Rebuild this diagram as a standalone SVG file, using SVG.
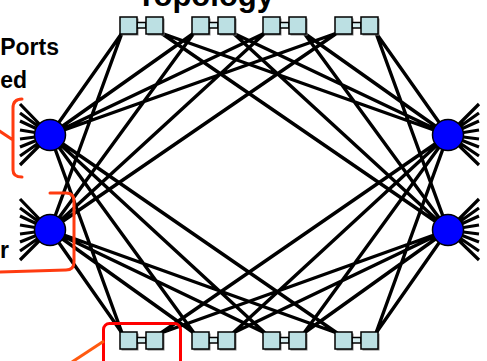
<svg xmlns="http://www.w3.org/2000/svg" width="487" height="361" viewBox="0 0 487 361">
<defs>
<style>
.lk{stroke:#000;stroke-width:3.4;stroke-linecap:round;fill:none}
.sp{stroke:#000;stroke-width:3.2;fill:none}
.bx{fill:#BCE0E3;stroke:#000;stroke-width:1.5}
.sh{fill:#808080}
.cn{fill:#D6EEF0;stroke:#000;stroke-width:1.5}
.nd{fill:#0000FF;stroke:#000;stroke-width:1.5}
.t{font-family:"Liberation Sans",Arial,sans-serif;font-weight:bold;fill:#000}
.br{stroke:#FF3B10;stroke-width:3;fill:none;stroke-linecap:round}
</style>
<g id="pair">
<rect class="sh" x="1.5" y="1.5" width="17" height="17"/>
<rect class="sh" x="27.5" y="1.5" width="17" height="17"/>
<rect class="cn" x="17" y="5.5" width="9" height="5.5"/>
<rect class="bx" x="0" y="0" width="17" height="17"/>
<rect class="bx" x="26" y="0" width="17" height="17"/>
</g>
</defs>
<text class="t" x="274" y="6" font-size="31" text-anchor="end">Topology</text>
<text class="t" x="59" y="55" font-size="23" text-anchor="end">Ports</text>
<text class="t" x="27" y="88" font-size="23" text-anchor="end">ed</text>
<text class="t" x="9" y="258" font-size="23" text-anchor="end">r</text>
<g id="connectors">
<path class="lk" d="M50,135L122,33M50,230L122,33M50,135L194,33M50,230L194,33M50,135L265,33M50,230L265,33M50,135L337,33M50,230L337,33"/>
<path class="lk" d="M50,135L122,333M50,230L122,333M50,135L194,333M50,230L194,333M50,135L265,333M50,230L265,333M50,135L337,333M50,230L337,333"/>
<path class="lk" d="M448,135L161,33M448,230L161,33M448,135L233,33M448,230L233,33M448,135L304,33M448,230L304,33M448,135L376,33M448,230L376,33"/>
<path class="lk" d="M448,135L161,333M448,230L161,333M448,135L233,333M448,230L233,333M448,135L304,333M448,230L304,333M448,135L376,333M448,230L376,333"/>
</g>
<g id="spikes">
<path class="sp" d="M50,135L20,104M50,135L20,113M50,135L20,121M50,135L20,130M50,135L20,139M50,135L20,147M50,135L20,156M50,135L20,165"/>
<path class="sp" d="M50,230L20,199M50,230L20,208M50,230L20,216M50,230L20,225M50,230L20,234M50,230L20,242M50,230L20,251M50,230L20,260"/>
<path class="sp" d="M448,135L479,104M448,135L479,113M448,135L479,121M448,135L479,130M448,135L479,139M448,135L479,147M448,135L479,156M448,135L479,165"/>
<path class="sp" d="M448,230L479,199M448,230L479,208M448,230L479,216M448,230L479,225M448,230L479,234M448,230L479,242M448,230L479,251M448,230L479,260"/>
</g>
<g id="sw-top-1"><use href="#pair" x="120" y="17"/></g>
<g id="sw-top-2"><use href="#pair" x="192" y="17"/></g>
<g id="sw-top-3"><use href="#pair" x="263" y="17"/></g>
<g id="sw-top-4"><use href="#pair" x="335" y="17"/></g>
<g id="sw-bot-1"><use href="#pair" x="120" y="332"/></g>
<g id="sw-bot-2"><use href="#pair" x="192" y="332"/></g>
<g id="sw-bot-3"><use href="#pair" x="263" y="332"/></g>
<g id="sw-bot-4"><use href="#pair" x="335" y="332"/></g>
<g id="node-l1"><circle class="nd" cx="50" cy="135" r="15.5"/></g>
<g id="node-l2"><circle class="nd" cx="50" cy="230" r="15.5"/></g>
<g id="node-r1"><circle class="nd" cx="448" cy="135" r="15.5"/></g>
<g id="node-r2"><circle class="nd" cx="448" cy="230" r="15.5"/></g>
<g id="annotations">
<path class="br" d="M22,99Q13,99 13,108V170Q13,177 22,177M13,140L-8,126"/>
<path class="br" d="M50,193H66Q74,193 74,201V262Q74,270 66,270L-2,272"/>
<rect x="103.5" y="323.5" width="77" height="50" rx="6" fill="none" stroke="#FF0000" stroke-width="3"/>
<path d="M72,362L104,341" stroke="#FF5A10" stroke-width="3" fill="none"/>
</g>
</svg>
